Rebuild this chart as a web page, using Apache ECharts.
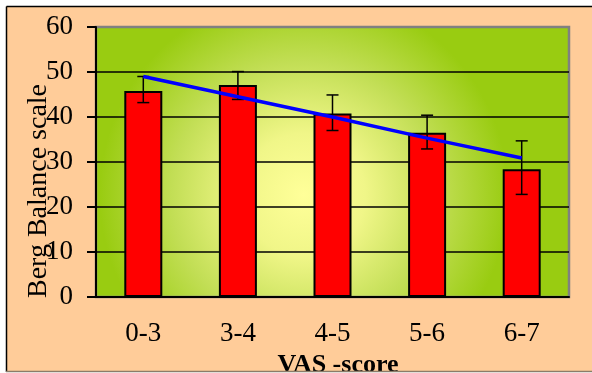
<!DOCTYPE html>
<html>
<head>
<meta charset="utf-8">
<script src="https://cdn.jsdelivr.net/npm/echarts@6/dist/echarts.min.js"></script>
<style>
html,body{margin:0;padding:0;background:#fff;}
#main{width:592px;height:373px;}
</style>
</head>
<body>
<div id="main"></div>
<script>
// VAS score groups vs Berg Balance scale
var cats = ['0-3', '3-4', '4-5', '5-6', '6-7'];
var means = [45.8, 47.1, 40.8, 36.5, 28.4];
var errLow = [43.2, 43.9, 37.0, 32.9, 22.8];
var errHigh = [49.0, 50.1, 44.9, 40.4, 34.7];
var trend = [49.0, 44.5, 40.0, 35.3, 30.9];

var serif = "'Liberation Serif', 'Times New Roman', serif";
var chart = echarts.init(document.getElementById('main'));

var errData = [];
for (var i = 0; i < cats.length; i++) {
	errData.push([i, errLow[i], errHigh[i]]);
}

var option = {
	animation: false,
	backgroundColor: '#fff',
	graphic: [
		{type: 'rect', z: -10, shape: {x: 6, y: 6, width: 600, height: 366}, style: {fill: '#FFCC99'}},
		{type: 'line', z: 100, shape: {x1: 6.5, y1: 6.5, x2: 600, y2: 6.5}, style: {stroke: '#000', lineWidth: 1.5}},
		{type: 'line', z: 100, shape: {x1: 6.5, y1: 6.5, x2: 6.5, y2: 372}, style: {stroke: '#000', lineWidth: 1.5}},
		{type: 'line', z: 100, shape: {x1: 6, y1: 371.5, x2: 600, y2: 371.5}, style: {stroke: '#8a7c6a', lineWidth: 1.5}},
		{type: 'text', z: 50, x: 39, y: 191, rotation: Math.PI / 2,
			style: {text: 'Berg Balance scale', font: '28px ' + serif, fill: '#000', align: 'center', verticalAlign: 'middle'}},
		{type: 'text', z: 50, x: 338, y: 365,
			style: {text: 'VAS -score', font: 'bold 26px ' + serif, fill: '#000', align: 'center', verticalAlign: 'middle'}}
	],
	grid: {
		left: 96, right: 23, top: 27, bottom: 76,
		show: true,
		borderWidth: 2.5,
		borderColor: '#808080',
		backgroundColor: {
			type: 'radial', x: 0.44, y: 0.62, r: 0.75,
			colorStops: [
				{offset: 0, color: '#FFFF99'},
				{offset: 0.3, color: '#F0F688'},
				{offset: 0.65, color: '#C2DE55'},
				{offset: 1, color: '#99CC11'}
			]
		}
	},
	xAxis: {
		type: 'category',
		data: cats,
		axisLine: {lineStyle: {color: '#000', width: 2}},
		axisTick: {length: 9, lineStyle: {color: '#000', width: 2}},
		axisLabel: {color: '#000', fontSize: 27, fontFamily: serif, margin: 23}
	},
	yAxis: {
		type: 'value',
		min: 0, max: 60, interval: 10,
		axisLine: {show: true, lineStyle: {color: '#000', width: 2}},
		axisTick: {show: true, length: 9, lineStyle: {color: '#000', width: 2}},
		axisLabel: {color: '#000', fontSize: 27, fontFamily: serif, margin: 23},
		splitLine: {show: true, lineStyle: {color: ['#000', '#000', '#000', '#000', '#000', '#000', '#808080'], width: 1.5}}
	},
	series: [
		{
			type: 'bar',
			data: means,
			barWidth: 38,
			itemStyle: {color: '#FF0000', borderColor: '#000', borderWidth: 2}
		},
		{
			type: 'custom',
			data: errData,
			z: 5,
			renderItem: function (params, api) {
				var x = api.value(0);
				var lo = api.coord([x, api.value(1)]);
				var hi = api.coord([x, api.value(2)]);
				var cap = 6;
				var st = {stroke: '#000', lineWidth: 1.5};
				return {
					type: 'group',
					children: [
						{type: 'line', shape: {x1: lo[0], y1: lo[1], x2: hi[0], y2: hi[1]}, style: st},
						{type: 'line', shape: {x1: lo[0] - cap, y1: lo[1], x2: lo[0] + cap, y2: lo[1]}, style: st},
						{type: 'line', shape: {x1: hi[0] - cap, y1: hi[1], x2: hi[0] + cap, y2: hi[1]}, style: st}
					]
				};
			}
		},
		{
			type: 'line',
			data: trend,
			z: 10,
			symbol: 'none',
			lineStyle: {color: '#0000FF', width: 3.5}
		}
	]
};
chart.setOption(option);
</script>
</body>
</html>
